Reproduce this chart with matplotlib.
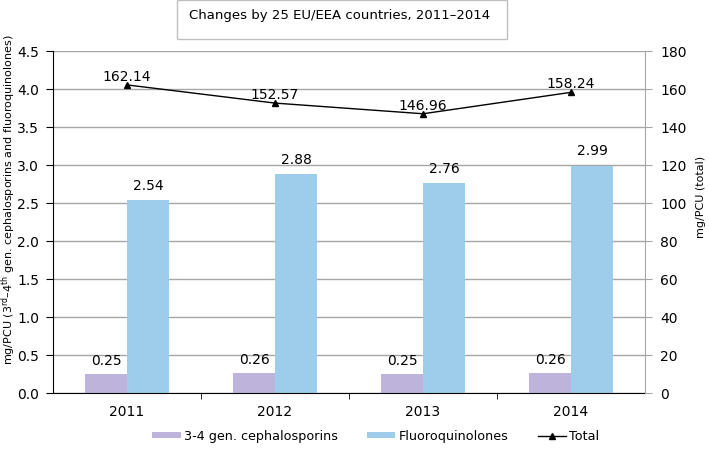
import numpy as np
import matplotlib

matplotlib.use("Agg")
import matplotlib.pyplot as plt
from matplotlib.patches import Rectangle

plt.rcParams["font.family"] = ["DejaVu Sans"]

years = ["2011", "2012", "2013", "2014"]
cephalosporins = [0.25, 0.26, 0.25, 0.26]
fluoroquinolones = [2.54, 2.88, 2.76, 2.99]
total = [162.14, 152.57, 146.96, 158.24]

purple = "#bdb3db"
blue = "#9dcdeb"
grid_grey = "#a6a6a6"

fig = plt.figure(figsize=(7.09, 4.60), dpi=100)
ax = fig.add_axes([0.0748, 0.1435, 0.835, 0.7435])
ax2 = ax.twinx()

x = np.arange(len(years))
w = 0.284
ax.bar(x - w / 2, cephalosporins, w, color=purple, label="3-4 gen. cephalosporins", zorder=2)
ax.bar(x + w / 2, fluoroquinolones, w, color=blue, label="Fluoroquinolones", zorder=2)

for xi, v in zip(x, cephalosporins):
    ax.annotate(f"{v:.2f}", (xi - w / 2, v), xytext=(0, 5), textcoords="offset points",
                ha="center", va="bottom", fontsize=10)
for xi, v in zip(x, fluoroquinolones):
    ax.annotate(f"{v:.2f}", (xi + w / 2, v), xytext=(0, 6), textcoords="offset points",
                ha="center", va="bottom", fontsize=10)

ax.set_xlim(-0.5, len(years) - 0.5)
ax.set_ylim(0, 4.5)
ax.set_yticks(np.arange(0, 4.51, 0.5))
ax.set_yticklabels([f"{t:.1f}" for t in np.arange(0, 4.51, 0.5)], fontsize=10)
ax.yaxis.grid(True, color=grid_grey, lw=1, zorder=0)
ax.set_axisbelow(True)

ax.set_xticks(x)
ax.set_xticklabels(years, fontsize=10)
ax.set_xticks(np.arange(0.5, len(years) - 0.5), minor=True)
ax.tick_params(axis="x", which="major", length=0, pad=8)
ax.tick_params(axis="x", which="minor", length=4, direction="out", color="black")
ax.tick_params(axis="y", length=5, direction="out", color="black", pad=5)

ax.set_ylabel(r"mg/PCU (3$^{\rm rd}$–4$^{\rm th}$ gen. cephalosporins and fluoroquinolones)",
              fontsize=8)
ax.yaxis.set_label_coords(-0.059, 0.567)

for a in (ax, ax2):
    a.spines["top"].set_visible(False)
ax.spines["right"].set_visible(False)
ax.spines["left"].set_color("black")
ax.spines["bottom"].set_color("black")
ax2.spines["left"].set_visible(False)
ax2.spines["bottom"].set_visible(False)
ax2.spines["right"].set_color(grid_grey)

ax2.plot(x, total, color="black", lw=1, marker="^", ms=5, label="Total", zorder=3)
for xi, v in zip(x, total):
    ax2.annotate(f"{v:.2f}", (xi, v), xytext=(0, 1.5), textcoords="offset points",
                 ha="center", va="bottom", fontsize=10)
ax2.set_ylim(0, 180)
ax2.set_yticks(np.arange(0, 181, 20))
ax2.tick_params(axis="y", length=5, direction="out", color=grid_grey, labelsize=10, pad=6)
ax2.set_ylabel("mg/PCU (total)", fontsize=8)
ax2.yaxis.set_label_coords(1.086, 0.576)

# title box
fig.patches.append(Rectangle((177 / 709, 1 - 40 / 460), (507 - 177) / 709, 39 / 460,
                             transform=fig.transFigure, facecolor="white",
                             edgecolor="#bfbfbf", lw=1))
fig.text(189 / 709, 1 - 16 / 460, "Changes by 25 EU/EEA countries, 2011–2014",
         fontsize=9.5, ha="left", va="center")

h1, l1 = ax.get_legend_handles_labels()
h2, l2 = ax2.get_legend_handles_labels()
fig.legend(h1 + h2, l1 + l2, loc="center", bbox_to_anchor=(0.53, 1 - 437 / 460), ncol=3,
           frameon=False, fontsize=9.2, handlelength=2.2, handleheight=0.45,
           columnspacing=2.3, handletextpad=0.25)

fig.savefig("out.png", dpi=100)
